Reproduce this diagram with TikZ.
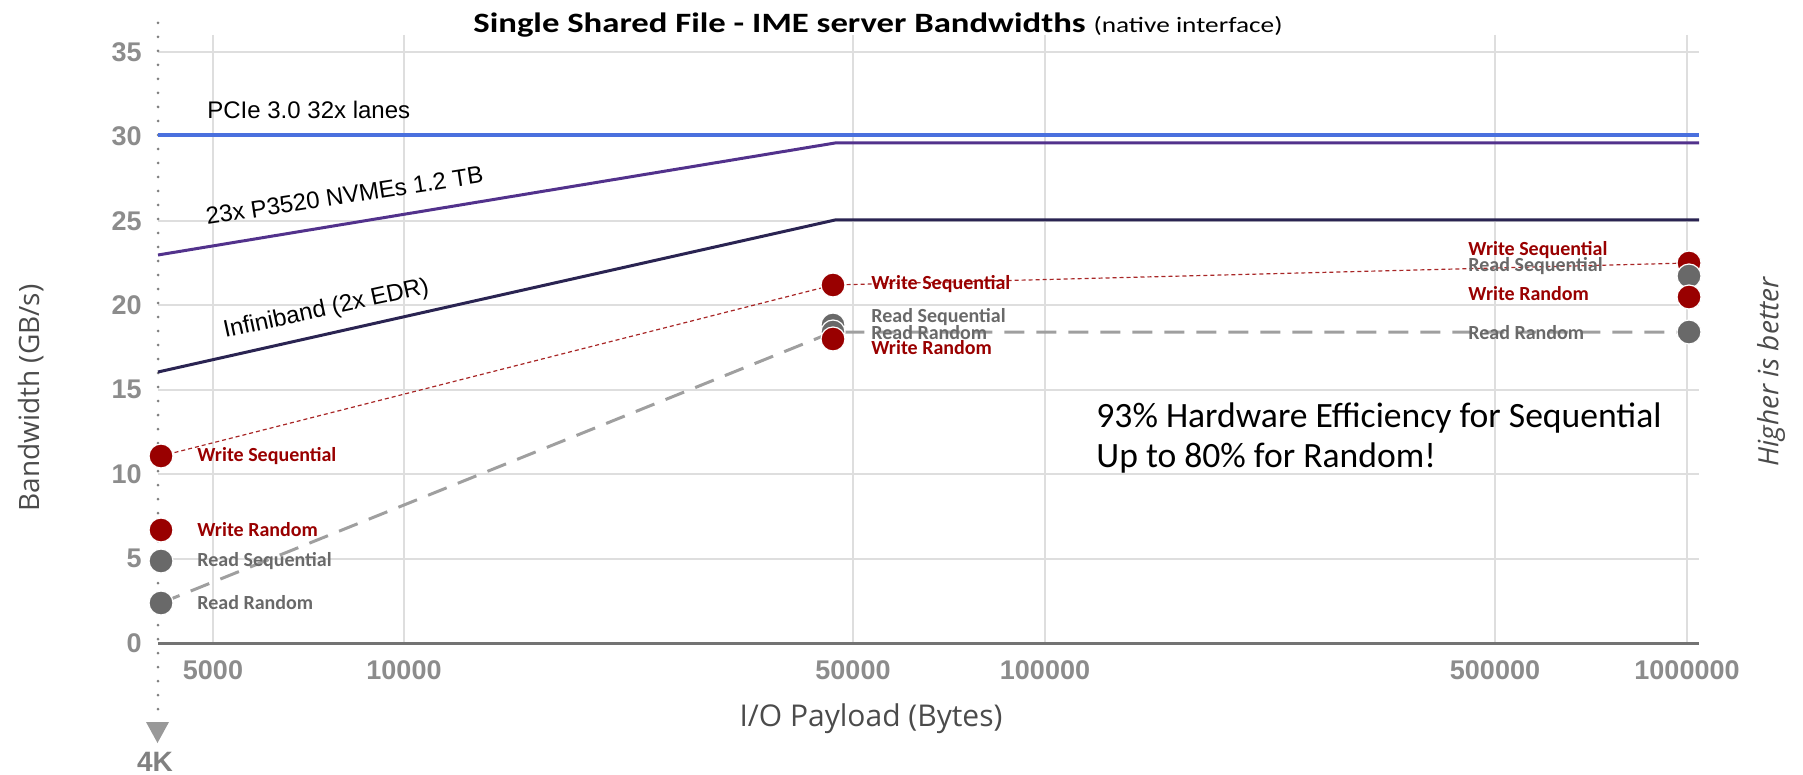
\documentclass[tikz,border=0pt]{standalone}
\usepackage{graphicx}
\usepackage{fontspec}
\setmainfont{Carlito}
\newfontfamily\arialfont{Liberation Sans}
\newfontfamily\opensfont{Open Sans}
\definecolor{pcieblue}{RGB}{74,112,222}
\definecolor{nvmepurple}{RGB}{82,50,140}
\definecolor{ibnavy}{RGB}{42,36,82}
\definecolor{wred}{RGB}{153,0,0}
\definecolor{rgray}{RGB}{105,105,105}
\definecolor{gridgray}{RGB}{222,222,222}
\definecolor{ticktext}{RGB}{140,140,140}
\definecolor{axistext}{RGB}{75,75,75}
\tikzset{
  grid line/.style={gridgray,line width=1pt},
  ytick/.style={anchor=east,inner sep=0pt,text=ticktext,font=\arialfont\bfseries\fontsize{13.5}{14}\selectfont},
  xtick/.style={text=ticktext,font=\arialfont\bfseries\fontsize{13.5}{14}\selectfont},
  curve label/.style={anchor=base west,inner sep=0pt,font=\arialfont\fontsize{12}{14}\selectfont},
  wdot/.style={circle,fill=wred,draw=white,line width=.6pt,minimum size=12pt,inner sep=0pt},
  rdot/.style={circle,fill=rgray,draw=white,line width=.6pt,minimum size=12pt,inner sep=0pt},
  wlabel/.style={anchor=west,inner sep=0pt,text=wred,font=\bfseries\fontsize{10}{10}\selectfont},
  rlabel/.style={anchor=west,inner sep=0pt,text=rgray,font=\bfseries\fontsize{10}{10}\selectfont},
  note/.style={anchor=base west,inner sep=0pt,font=\fontsize{17.8}{20}\selectfont}
}
\begin{document}
\begin{tikzpicture}[x=0.5pt,y=-0.5pt]
\useasboundingbox (0,0) rectangle (1803,775);
% grid
\foreach \v in {5,10,...,35}
  \draw[grid line] (158,{643-16.89*\v}) -- (1699,{643-16.89*\v});
\foreach \x/\t in {213/5000,404/10000,853/50000,1045/100000,1495/500000,1687/1000000}{
  \draw[grid line] (\x,35) -- (\x,643);
  \node[xtick] (tick\t) at (\x,670) {\t};
}
\foreach \v in {0,5,...,35}
  \node[ytick] (ylab\v) at (142,{643-16.89*\v}) {\v};
\draw[gray!110,line width=1.5pt] (158,643) -- (1699,643);
\draw[gray,line width=1.5pt,line cap=round,dash pattern=on 0pt off 7pt] (158,23) -- (158,712);
\fill[gray!80] (146,722) -- (169,722) -- (157.5,743) -- cycle;
\node[text=gray,font=\arialfont\bfseries\fontsize{14}{14}\selectfont] (fourk) at (155,762) {4K};

% title and axis titles
\node[anchor=base west,inner sep=0pt] (title) at (473,33)
  {\scalebox{1.24}[1]{\fontsize{14}{16}\selectfont\bfseries Single Shared File - IME server Bandwidths \fontsize{11}{12}\selectfont\mdseries(native interface)}};
\node[rotate=90,text=axistext,font=\opensfont\fontsize{14}{16}\selectfont] (ylabel) at (31,398) {Bandwidth (GB/s)};
\node[text=axistext,font=\opensfont\fontsize{15}{16}\selectfont] (xlabel) at (871,719) {I/O Payload (Bytes)};
\node[rotate=90,text=axistext,font=\opensfont\itshape\fontsize{14}{16}\selectfont] (better) at (1771,372) {Higher is better};

% hardware limits
\draw[pcieblue,line width=2pt] (158,135) -- (1699,135);
\draw[nvmepurple,line width=1.5pt] (158,255) -- (835,143) -- (1699,143);
\draw[ibnavy,line width=1.5pt] (158,372) -- (835,220) -- (1699,220);
\node[curve label] (pcie) at (207,119) {PCIe 3.0 32x lanes};
\node[curve label,rotate=8.7] (nvme) at (207,225) {23x P3520 NVMEs 1.2 TB};
\node[curve label,rotate=12.3] (ib) at (225,338) {Infiniband (2x EDR)};

% measured points
\coordinate (ws4k) at (161,456);
\coordinate (wr4k) at (161,530);
\coordinate (rs4k) at (161,561);
\coordinate (rr4k) at (161,603);
\coordinate (ws50k) at (833,285);
\coordinate (rs50k) at (833,325);
\coordinate (rr50k) at (833,332);
\coordinate (wr50k) at (833,339);
\coordinate (ws1m) at (1689,263);
\coordinate (rs1m) at (1689,276);
\coordinate (wr1m) at (1689,297);
\coordinate (rr1m) at (1689,332);
\draw[wred!85,line width=.6pt,dash pattern=on 2pt off 1.5pt] (ws4k) -- (ws50k) -- (ws1m);
\draw[gray!75,line width=1.5pt,dash pattern=on 10pt off 6pt] (rr4k) -- (rr50k) -- (rr1m);
\foreach \p in {4k,50k,1m}{
  \node[wdot] (ws\p dot) at (ws\p) {};
  \node[rdot] (rs\p dot) at (rs\p) {};
  \node[rdot] (rr\p dot) at (rr\p) {};
  \node[wdot] (wr\p dot) at (wr\p) {};
}
\node[wlabel] (ws4klab) at (197,456) {Write Sequential};
\node[wlabel] (wr4klab) at (197,530) {Write Random};
\node[rlabel] (rs4klab) at (197,561) {Read Sequential};
\node[rlabel] (rr4klab) at (197,603) {Read Random};
\node[wlabel] (ws50klab) at (871,284) {Write Sequential};
\node[rlabel] (rs50klab) at (871,317) {Read Sequential};
\node[rlabel] (rr50klab) at (871,333) {Read Random};
\node[wlabel] (wr50klab) at (871,348) {Write Random};
\node[wlabel] (ws1mlab) at (1468,250) {Write Sequential};
\node[rlabel] (rs1mlab) at (1468,266) {Read Sequential};
\node[wlabel] (wr1mlab) at (1468,294) {Write Random};
\node[rlabel] (rr1mlab) at (1468,333) {Read Random};

% note
\node[note] (note1) at (1096,427) {93\% Hardware Efficiency for Sequential};
\node[note] (note2) at (1096,467) {Up to 80\% for Random!};
\end{tikzpicture}
\end{document}
